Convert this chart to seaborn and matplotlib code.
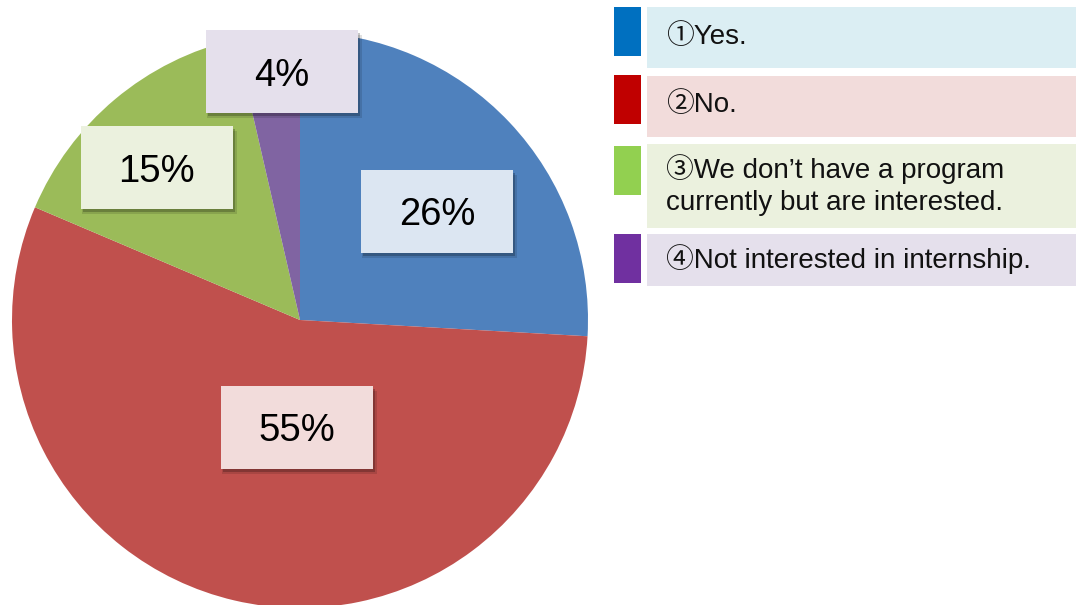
import numpy as np
import matplotlib
matplotlib.use("Agg")
import matplotlib.pyplot as plt
from matplotlib.patches import Rectangle
import seaborn as sns

# ---- data ----
categories = ["①Yes.", "②No.", "③We don’t have a program\ncurrently but are interested.", "④Not interested in internship."]
values = [25.9, 55.5, 15.0, 3.6]
pct_labels = ["26%", "55%", "15%", "4%"]

# ---- styles ----
pie_colors = ["#4F81BD", "#C0504D", "#9BBB59", "#8064A2"]
label_box_colors = ["#DCE6F2", "#F2DCDB", "#EBF1DE", "#E5E0EC"]
legend_square_colors = ["#0070C0", "#C00000", "#92D050", "#7030A0"]
legend_box_colors = ["#DBEEF3", "#F2DCDB", "#EBF1DE", "#E5E0EC"]

sns.set_theme(style="white")
plt.rcParams["font.family"] = ["Liberation Sans", "Noto Sans CJK JP", "DejaVu Sans"]

W, H = 1081, 605
fig = plt.figure(figsize=(W / 100, H / 100), dpi=100)
ax = fig.add_axes([0, 0, 1, 1])

cx, cy, R = 300, H - 320, 288
wedges, _ = ax.pie(values, colors=pie_colors, startangle=90, counterclock=False,
                   center=(cx, cy), radius=R, frame=True,
                   wedgeprops=dict(linewidth=0))
ax.set_xlim(0, W)
ax.set_ylim(0, H)
ax.set_aspect("auto")
ax.axis("off")

# percentage label boxes: placed along each wedge (radial fraction, angle nudge)
label_dist = [0.608, 0.372, 0.725, 0.864]
label_nudge = [-4.9, 11.5, 3.3, -2.3]
bw, bh = 152, 83
for w, d, nudge, txt, fc in zip(wedges, label_dist, label_nudge, pct_labels, label_box_colors):
    mid = np.deg2rad((w.theta1 + w.theta2) / 2 + nudge)
    x = cx + d * R * np.cos(mid)
    y = cy + d * R * np.sin(mid)
    # shadow
    ax.add_patch(Rectangle((x - bw / 2 + 1, y - bh / 2 - 5), bw + 3, bh, facecolor="black",
                           alpha=0.12, linewidth=0, zorder=3))
    ax.add_patch(Rectangle((x - bw / 2 + 2, y - bh / 2 - 3), bw, bh, facecolor="black",
                           alpha=0.22, linewidth=0, zorder=3))
    ax.add_patch(Rectangle((x - bw / 2, y - bh / 2), bw, bh, facecolor=fc,
                           linewidth=0, zorder=4))
    ax.text(x, y, txt, ha="center", va="center_baseline", fontsize=27.5, color="black", zorder=5)

# ---- legend (drawn as in the reference) ----
sq_x, sq_w = 614, 27
box_x, box_w = 647, 429
rows_box = [(7, 68), (76, 137), (144, 228), (234, 286)]
rows_sq = [(7, 56), (75, 124), (146, 195), (234, 283)]
text_x = 666
for (bt, bb), (st, sb), sc, bc, lab in zip(rows_box, rows_sq, legend_square_colors,
                                           legend_box_colors, categories):
    ax.add_patch(Rectangle((sq_x, H - sb), sq_w, sb - st, facecolor=sc, linewidth=0))
    ax.add_patch(Rectangle((box_x, H - bb), box_w, bb - bt, facecolor=bc, linewidth=0))
    ax.text(text_x, H - (bt + bb) / 2 + 1, lab, ha="left", va="center", fontsize=20,
            color="#111111", linespacing=1.32)

fig.savefig("out.png", dpi=100)
